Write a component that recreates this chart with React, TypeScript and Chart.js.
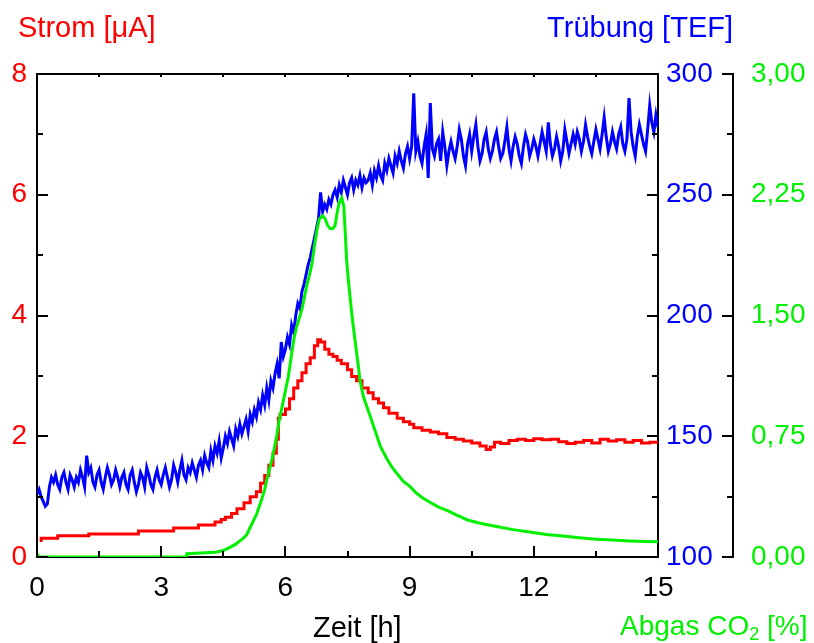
import React, { useEffect, useRef } from 'react';
import { Chart, registerables } from 'chart.js';

Chart.register(...registerables);

const FONT = '"Liberation Sans", Arial, Helvetica, sans-serif';
const RED = '#ff0000';
const BLUE = '#0000ff';
const GREEN = '#00f000';

// Trübung [TEF], sampled every 0.05 h from 0 to 15 h
const blueStep = 0.05;
const blueValues = [
  126,128,125,123,121,122,129,133,131,134,130,128,133,135,131,128,134,132,129,133,
  131,136,133,129,142,135,137,131,129,134,136,131,128,133,137,134,130,132,136,133,
  129,133,135,130,128,134,136,131,127,130,135,133,129,137,134,130,128,133,136,132,
  130,134,137,133,129,132,138,135,131,136,140,134,132,137,135,139,136,133,138,140,
  136,142,139,137,144,140,146,143,148,141,145,150,147,152,149,146,153,150,155,151,
  154,157,152,159,156,161,158,164,161,167,163,170,165,173,170,176,180,174,189,183,
  186,191,188,196,193,200,205,203,210,213,217,221,224,228,232,236,240,251,243,246,
  244,248,246,250,252,249,254,251,256,253,250,255,257,252,256,254,258,253,257,255,
  256,259,254,260,257,262,258,256,263,260,265,262,259,266,263,268,264,261,267,270,
  265,270,292,268,272,266,263,270,275,257,288,269,266,271,273,264,276,270,262,268,
  272,268,265,270,277,273,266,262,271,275,268,274,279,270,264,267,273,276,269,265,
  268,273,276,270,265,267,272,278,269,264,270,274,271,266,263,270,275,272,266,269,
  273,270,266,271,276,272,268,280,271,266,269,274,270,264,268,277,272,267,271,275,
  271,276,273,268,272,279,274,270,267,272,277,273,269,275,282,274,268,271,276,272,
  269,275,278,271,268,273,290,276,270,266,274,279,275,271,268,277,287,280,276,283,278,
];

// Strom [µA]
const redTimes = [
  0.1,0.5,1.25,2.45,3.3,3.9,4.3,4.45,4.55,4.7,4.83,5.0,5.15,5.3,5.4,5.5,5.6,5.7,5.78,5.83,
  5.87,6.0,6.1,6.2,6.3,6.4,6.5,6.6,6.7,6.78,6.85,6.95,7.05,7.15,7.25,7.35,7.5,7.6,7.72,7.85,
  8.0,8.12,8.25,8.37,8.5,8.7,8.85,9.0,9.1,9.3,9.5,9.7,9.9,10.1,10.3,10.5,10.7,10.85,10.95,11.05,
  11.2,11.4,11.6,11.8,12.0,12.2,12.4,12.6,12.8,13.0,13.2,13.4,13.6,13.8,14.0,14.2,14.4,14.6,14.8,15.0,
];
const redValues = [
  0.25,0.31,0.35,0.38,0.43,0.48,0.53,0.58,0.62,0.66,0.72,0.80,0.90,1.0,1.08,1.22,1.35,1.52,1.72,1.95,
  2.3,2.36,2.45,2.62,2.80,2.92,3.05,3.2,3.3,3.5,3.6,3.56,3.44,3.36,3.32,3.26,3.2,3.1,2.99,2.92,
  2.8,2.72,2.62,2.55,2.47,2.38,2.3,2.24,2.2,2.14,2.1,2.07,2.04,1.98,1.95,1.92,1.89,1.84,1.78,1.82,
  1.9,1.88,1.93,1.95,1.93,1.96,1.94,1.95,1.91,1.88,1.9,1.93,1.89,1.95,1.92,1.94,1.9,1.93,1.89,1.9,
];

// Abgas CO2 [%]
const greenTimes = [
  0,0.05,3.6,3.62,4.3,4.5,4.66,4.8,4.9,5.0,5.07,5.14,5.2,5.31,5.43,5.5,5.55,5.62,5.67,5.73,
  5.79,5.85,5.91,5.99,6.07,6.15,6.21,6.27,6.33,6.39,6.45,6.51,6.58,6.64,6.7,6.76,6.82,6.9,6.96,7.02,
  7.08,7.15,7.2,7.25,7.3,7.36,7.41,7.44,7.48,7.52,7.56,7.6,7.64,7.68,7.72,7.76,7.8,7.88,7.96,8.04,
  8.12,8.2,8.29,8.37,8.45,8.57,8.69,8.85,9.0,9.15,9.3,9.49,9.7,9.9,10.14,10.4,10.7,11.1,11.5,11.9,
  12.3,12.7,13.1,13.5,13.9,14.3,14.7,15.0,
];
const greenValues = [
  0.02,0.0,0.0,0.02,0.03,0.04,0.06,0.08,0.10,0.12,0.14,0.18,0.21,0.27,0.36,0.42,0.48,0.55,0.6,0.67,
  0.75,0.85,0.92,1.02,1.12,1.26,1.36,1.43,1.48,1.53,1.6,1.68,1.75,1.82,1.93,2.03,2.10,2.12,2.1,2.06,
  2.04,2.04,2.06,2.14,2.2,2.23,2.18,2.04,1.84,1.72,1.62,1.52,1.43,1.35,1.27,1.19,1.1,1.0,0.94,0.88,
  0.82,0.76,0.69,0.65,0.61,0.56,0.52,0.47,0.44,0.40,0.37,0.34,0.31,0.29,0.26,0.23,0.21,0.19,0.17,0.155,
  0.14,0.13,0.12,0.11,0.105,0.1,0.097,0.095,
];

const titleLeft = 'Strom [μA]';
const titleRight = 'Trübung [TEF]';
const titleX = 'Zeit [h]';
const titleGreen = ['Abgas CO', '2', ' [%]'];

const near = (v: number, m: number) => Math.abs(v / m - Math.round(v / m)) < 1e-6;

const framePlugin = {
  id: 'frame',
  afterDatasetsDraw(chart: any) {
    const { ctx, chartArea: a, scales } = chart;
    const { x, y, y2, y3 } = scales;
    ctx.save();
    ctx.strokeStyle = '#000';
    ctx.lineWidth = 2;
    ctx.lineCap = 'butt';
    const seg = (x1: number, y1: number, x2: number, y2p: number) => {
      ctx.beginPath();
      ctx.moveTo(x1, y1);
      ctx.lineTo(x2, y2p);
      ctx.stroke();
    };
    seg(a.left - 1, a.top, a.right + 1, a.top);
    x.ticks.forEach((t: any) => {
      const px = Math.round(x.getPixelForValue(t.value));
      const len = near(t.value, 3) ? 11 : 6;
      seg(px, a.bottom, px, a.bottom - len);
      seg(px, a.top, px, a.top + 3);
    });
    y.ticks.forEach((t: any) => {
      const py = Math.round(y.getPixelForValue(t.value));
      const len = near(t.value, 2) ? 11 : 6;
      seg(a.left, py, a.left + len, py);
    });
    y2.ticks.forEach((t: any) => {
      const py = Math.round(y2.getPixelForValue(t.value));
      const len = near(t.value, 50) ? 11 : 6;
      seg(a.right, py, a.right - len, py);
    });
    y3.ticks.forEach((t: any) => {
      const py = Math.round(y3.getPixelForValue(t.value));
      const len = near(t.value, 0.75) ? 11 : 6;
      seg(y3.left, py, y3.left - len, py);
    });
    ctx.restore();
  },
  afterDraw(chart: any) {
    const { ctx } = chart;
    ctx.save();
    ctx.font = `29px ${FONT}`;
    ctx.textBaseline = 'alphabetic';
    ctx.textAlign = 'left';
    ctx.fillStyle = RED;
    ctx.fillText(titleLeft, 18, 37);
    ctx.fillStyle = BLUE;
    ctx.textAlign = 'right';
    ctx.fillText(titleRight, 733, 37);
    ctx.textAlign = 'left';
    ctx.fillStyle = '#000';
    ctx.fillText(titleX, 313, 637);
    ctx.fillStyle = GREEN;
    ctx.font = `28px ${FONT}`;
    let gx = 620;
    ctx.fillText(titleGreen[0], gx, 635);
    gx += ctx.measureText(titleGreen[0]).width;
    ctx.font = `18px ${FONT}`;
    ctx.fillText(titleGreen[1], gx, 640);
    gx += ctx.measureText(titleGreen[1]).width;
    ctx.font = `28px ${FONT}`;
    ctx.fillText(titleGreen[2], gx, 635);
    ctx.restore();
  },
};

export default function App() {
  const ref = useRef<HTMLCanvasElement | null>(null);
  useEffect(() => {
    if (!ref.current) return;
    const tickFont = { family: FONT, size: 28 };
    const chart = new Chart(ref.current, {
      type: 'line',
      data: {
        datasets: [
          {
            label: 'Abgas CO2',
            data: greenTimes.map((t, i) => ({ x: t, y: greenValues[i] })),
            yAxisID: 'y3',
            borderColor: GREEN,
            borderWidth: 3,
            pointRadius: 0,
            tension: 0,
            fill: false,
          },
          {
            label: 'Strom',
            data: redTimes.map((t, i) => ({ x: t, y: redValues[i] })),
            yAxisID: 'y',
            borderColor: RED,
            borderWidth: 3,
            pointRadius: 0,
            stepped: 'after',
            fill: false,
          },
          {
            label: 'Trübung',
            data: blueValues.map((v, i) => ({ x: i * blueStep, y: v })),
            yAxisID: 'y2',
            borderColor: BLUE,
            borderWidth: 3,
            pointRadius: 0,
            tension: 0,
            fill: false,
          },
        ],
      },
      options: {
        animation: false,
        responsive: false,
        maintainAspectRatio: false,
        layout: { padding: { top: 74, left: 0, right: 0, bottom: 0 } },
        plugins: { legend: { display: false }, tooltip: { enabled: false } },
        scales: {
          x: {
            type: 'linear',
            position: 'bottom',
            min: 0,
            max: 15,
            ticks: {
              stepSize: 1.5,
              autoSkip: false,
              maxRotation: 0,
              color: '#000',
              font: tickFont,
              padding: 14,
              callback: (v: any) => (near(Number(v), 3) ? String(Math.round(Number(v))) : ''),
            },
            grid: { display: false, drawTicks: false },
            border: { display: true, color: '#000', width: 2 },
            afterFit: (s: any) => { s.height = 86; },
          },
          y: {
            type: 'linear',
            position: 'left',
            min: 0,
            max: 8,
            ticks: {
              stepSize: 1,
              color: RED,
              font: tickFont,
              padding: 10,
              callback: (v: any) => (near(Number(v), 2) ? String(Math.round(Number(v))) : ''),
            },
            grid: { display: false, drawTicks: false },
            border: { display: true, color: '#000', width: 2 },
            afterFit: (s: any) => { s.width = 37; },
          },
          y2: {
            type: 'linear',
            position: 'right',
            min: 100,
            max: 300,
            ticks: {
              stepSize: 25,
              color: BLUE,
              font: tickFont,
              padding: 8,
              callback: (v: any) => (near(Number(v), 50) ? String(Math.round(Number(v))) : ''),
            },
            grid: { display: false, drawTicks: false },
            border: { display: true, color: '#000', width: 2 },
            afterFit: (s: any) => { s.width = 75; },
          },
          y3: {
            type: 'linear',
            position: 'right',
            min: 0,
            max: 3,
            ticks: {
              stepSize: 0.375,
              color: GREEN,
              font: tickFont,
              padding: 18,
              callback: (v: any) => (near(Number(v), 0.75) ? Number(v).toFixed(2).replace('.', ',') : ''),
            },
            grid: { display: false, drawTicks: false },
            border: { display: true, color: '#000', width: 2 },
            afterFit: (s: any) => { s.width = 81; },
          },
        },
      },
      plugins: [framePlugin],
    } as any);
    return () => chart.destroy();
  }, []);
  return (
    <div style={{ position: 'absolute', left: 0, top: 0, width: 814, height: 643 }}>
      <canvas ref={ref} width={814} height={643} style={{ display: 'block' }} />
    </div>
  );
}
